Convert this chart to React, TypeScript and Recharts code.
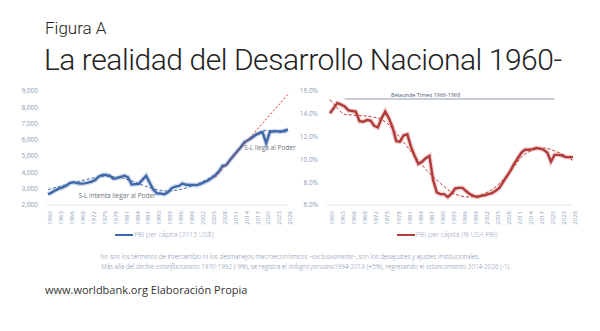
import React from 'react';
import { LineChart, Line, XAxis, YAxis, ReferenceLine, ReferenceDot } from 'recharts';

// años y PBI per cápita (2015 US$)
const years = [
  1960, 1961, 1962, 1963, 1964, 1965, 1966, 1967, 1968, 1969,
  1970, 1971, 1972, 1973, 1974, 1975, 1976, 1977, 1978, 1979,
  1980, 1981, 1982, 1983, 1984, 1985, 1986, 1987, 1988, 1989,
  1990, 1991, 1992, 1993, 1994, 1995, 1996, 1997, 1998, 1999,
  2000, 2001, 2002, 2003, 2004, 2005, 2006, 2007, 2008, 2009,
  2010, 2011, 2012, 2013, 2014, 2015, 2016, 2017, 2018, 2019,
  2020, 2021, 2022, 2023, 2024, 2025, 2026,
];
const gdpUsd = [
  2660, 2760, 2900, 3000, 3080, 3180, 3350, 3400, 3340, 3310,
  3330, 3370, 3430, 3540, 3750, 3850, 3850, 3790, 3610, 3650,
  3730, 3800, 3700, 3260, 3280, 3300, 3560, 3790, 3350, 2930,
  2720, 2700, 2660, 2780, 3030, 3130, 3170, 3320, 3240, 3230,
  3230, 3220, 3300, 3400, 3500, 3650, 3820, 4050, 4400, 4450,
  4750, 5020, 5290, 5550, 5850, 5980, 6120, 6280, 6400, 6470,
  5800, 6480, 6530, 6520, 6500, 6560, 6630,
];
// PBI per cápita (% USA PBI)
const gdpPct = [
  14.05, 14.5, 14.95, 14.8, 14.65, 14.3, 14.25, 14.2, 13.35, 13.3,
  13.45, 13.4, 12.95, 12.8, 13.6, 14.2, 13.6, 12.8, 11.6, 11.55,
  12.1, 12.2, 11.1, 10.3, 9.6, 9.8, 10.1, 10.3, 8.2, 7.1,
  6.95, 6.95, 6.7, 7.0, 7.45, 7.5, 7.5, 7.2, 6.95, 6.8,
  6.7, 6.8, 6.85, 6.95, 7.05, 7.25, 7.5, 8.0, 8.5, 9.0,
  9.6, 10.1, 10.6, 10.85, 10.85, 10.9, 11.0, 10.95, 10.85, 10.6,
  9.8, 10.4, 10.4, 10.35, 10.2, 10.2, 10.2,
];

// tendencias (leídas cada pocos años)
const usdTrendYears = [1960, 1963, 1966, 1969, 1972, 1975, 1978, 1981, 1984, 1987, 1990, 1993, 1996, 1999, 2002, 2005, 2008, 2011, 2014, 2017, 2020, 2023, 2026];
const usdTrend = [2950, 3130, 3320, 3480, 3640, 3740, 3740, 3620, 3400, 3140, 2940, 2860, 2930, 3120, 3380, 3750, 4300, 5020, 5800, 6360, 6570, 6570, 6420];
const usdProjYears = [2006, 2026];
const usdProj = [3700, 8800];

const pctTrendYears = [1960, 1962, 1964, 1968, 1972, 1975, 1978, 1981, 1984, 1987, 1990, 1994, 1998, 2002, 2005, 2009, 2012, 2015, 2018, 2021, 2024, 2026];
const pctTrend = [15.25, 14.5, 13.95, 13.85, 13.7, 13.3, 12.3, 11.1, 9.9, 8.8, 7.9, 6.95, 6.7, 7.0, 7.6, 8.95, 10.2, 10.8, 11.0, 10.75, 10.3, 9.9];

const xTicks = [1960, 1963, 1966, 1969, 1972, 1975, 1978, 1981, 1984, 1987, 1990, 1993, 1996, 1999, 2002, 2005, 2008, 2011, 2014, 2017, 2020, 2023, 2026];
const usdTicks = [2000, 3000, 4000, 5000, 6000, 7000, 8000, 9000];
const pctTicks = [6, 7, 8, 9, 10, 11, 12, 13, 14, 15, 16];

const FONT = "'Open Sans', 'DejaVu Sans', sans-serif";
const TITLE_FONT = "Roboto, 'Open Sans', sans-serif";
const TICK = '#8a9cb8';
const BLUE = '#3f68a8';
const RED = '#b33a3a';

function buildRows(main: number[], trendYears: number[], trend: number[], extraYears?: number[], extra?: number[]) {
  return years.map((y, i) => {
    const ti = trendYears.indexOf(y);
    const ei = extraYears ? extraYears.indexOf(y) : -1;
    return {
      year: y,
      value: main[i],
      trend: ti >= 0 ? trend[ti] : null,
      proj: ei >= 0 && extra ? extra[ei] : null,
    };
  });
}

const usdRows = buildRows(gdpUsd, usdTrendYears, usdTrend, usdProjYears, usdProj);
const pctRows = buildRows(gdpPct, pctTrendYears, pctTrend);

const xAxisProps = {
  dataKey: 'year',
  type: 'number' as const,
  domain: [1960, 2026],
  ticks: xTicks,
  interval: 0 as const,
  angle: -90,
  textAnchor: 'end',
  height: 24,
  tickLine: false,
  axisLine: { stroke: '#c9d1de', strokeDasharray: '1 1' },
  tick: { fontSize: 6, fill: TICK, fontFamily: FONT, dy: -2 },
  tickMargin: 2,
};

function LegendItem({ color, label, left }: { color: string; label: string; left: number }) {
  return (
    <div style={{ position: 'absolute', left, top: 230, display: 'flex', alignItems: 'center', fontFamily: FONT, fontWeight: 300, fontSize: 7, color: '#8797b3' }}>
      <span style={{ display: 'inline-block', width: 18, height: 2, background: color, marginRight: 1 }} />
      {label}
    </div>
  );
}

export default function App() {
  return (
    <div style={{ position: 'absolute', left: 0, top: 0, width: 600, height: 331, background: '#fff', overflow: 'hidden' }}>
      <div style={{ position: 'absolute', left: 45, top: 18, fontFamily: TITLE_FONT, fontWeight: 300, fontSize: 17, lineHeight: '20px', color: '#222' }}>
        Figura A
      </div>
      <div style={{ position: 'absolute', left: 44, top: 43, width: 540, fontFamily: TITLE_FONT, fontWeight: 300, fontSize: 30, lineHeight: '34px', letterSpacing: -0.45, color: '#222', whiteSpace: 'nowrap' }}>
        La realidad del Desarrollo Nacional 1960-
      </div>

      {/* PBI per cápita en US$ */}
      <div style={{ position: 'absolute', left: 0, top: 80 }}>
        <LineChart width={300} height={149} data={usdRows} margin={{ top: 11, right: 12, left: 0, bottom: 0 }}>
          <XAxis {...xAxisProps} padding={{ left: 2, right: 0 }} />
          <YAxis
            width={46}
            domain={[2000, 9000]}
            ticks={usdTicks}
            tickFormatter={(v: number) => v.toLocaleString('en-US')}
            axisLine={false}
            tickLine={false}
            tick={{ fontSize: 6.5, fill: TICK, fontFamily: FONT }}
          />
          <Line dataKey="value" stroke="#d3dcec" strokeWidth={5} dot={false} isAnimationActive={false} type="linear" />
          <Line dataKey="value" stroke={BLUE} strokeWidth={2.4} dot={false} isAnimationActive={false} type="linear" />
          <Line dataKey="trend" stroke={BLUE} strokeWidth={1} strokeDasharray="3 2" dot={false} connectNulls isAnimationActive={false} type="monotone" />
          <Line dataKey="proj" stroke="#e8302a" strokeWidth={1} strokeDasharray="2 2" dot={false} connectNulls isAnimationActive={false} type="linear" />
          <ReferenceDot x={1979} y={2560} r={0} label={{ value: 'S-L intenta llegar al Poder', position: 'center', fontSize: 6.5, fill: '#6b6f78', fontFamily: FONT }} />
          <ReferenceDot x={2021} y={5520} r={0} label={{ value: 'S-L llega al Poder', position: 'center', fontSize: 6.5, fill: '#6b6f78', fontFamily: FONT }} />
        </LineChart>
      </div>

      {/* PBI per cápita como % del de EE.UU. */}
      <div style={{ position: 'absolute', left: 290, top: 80 }}>
        <LineChart width={300} height={149} data={pctRows} margin={{ top: 11, right: 17, left: 0, bottom: 0 }}>
          <XAxis {...xAxisProps} padding={{ left: 4, right: 0 }} />
          <YAxis
            width={36}
            domain={[6, 16]}
            ticks={pctTicks}
            tickFormatter={(v: number) => v.toFixed(1) + '%'}
            axisLine={false}
            tickLine={false}
            tick={{ fontSize: 6.5, fill: TICK, fontFamily: FONT }}
          />
          <ReferenceLine segment={[{ x: 1964, y: 15.3 }, { x: 2021, y: 15.3 }]} stroke="#8e9bb3" strokeWidth={1} />
          <ReferenceLine
            segment={[{ x: 1972, y: 15.3 }, { x: 2000, y: 15.3 }]}
            stroke="none"
            label={{ value: 'Belaunde Times 1966-1968', position: 'top', offset: 2, fontSize: 5.5, fill: '#4a5670', fontFamily: FONT }}
          />
          <Line dataKey="value" stroke="#eed6d6" strokeWidth={5} dot={false} isAnimationActive={false} type="linear" />
          <Line dataKey="value" stroke={RED} strokeWidth={2.4} dot={false} isAnimationActive={false} type="linear" />
          <Line dataKey="trend" stroke="#c0392b" strokeWidth={1} strokeDasharray="3 2" dot={false} connectNulls isAnimationActive={false} type="monotone" />
        </LineChart>
      </div>

      <LegendItem color={BLUE} label="PBI per cápita (2015 US$)" left={115} />
      <LegendItem color={RED} label="PBI per cápita (% USA PBI)" left={397} />

      <svg width={600} height={60} style={{ position: 'absolute', left: 0, top: 245 }}>
        <text x={290} y={14} textAnchor="middle" fontFamily={FONT} fontWeight={300} fontSize={6.3} fill="#6d7fa3">
          No son los términos de intercambio ni los desmanejos macroeconómicos –<tspan fontStyle="italic">exclusivamente</tspan>-, son los desajustes y ajustes institucionales.
        </text>
        <text x={306} y={24} textAnchor="middle" fontFamily={FONT} fontWeight={300} fontSize={6.3} fill="#6d7fa3">
          Más allá del <tspan fontStyle="italic">declive estanflacionario</tspan> 1970-1992  (-9%), se registra el <tspan fontStyle="italic">milagro peruano</tspan>1994-2013 (+5%), regresando el <tspan fontStyle="italic">estancamiento</tspan> 2014-2026 (-1).
        </text>
        <text x={45} y={49} fontFamily={FONT} fontSize={11} fill="#333">www.worldbank.org  Elaboración Propia</text>
      </svg>
    </div>
  );
}
